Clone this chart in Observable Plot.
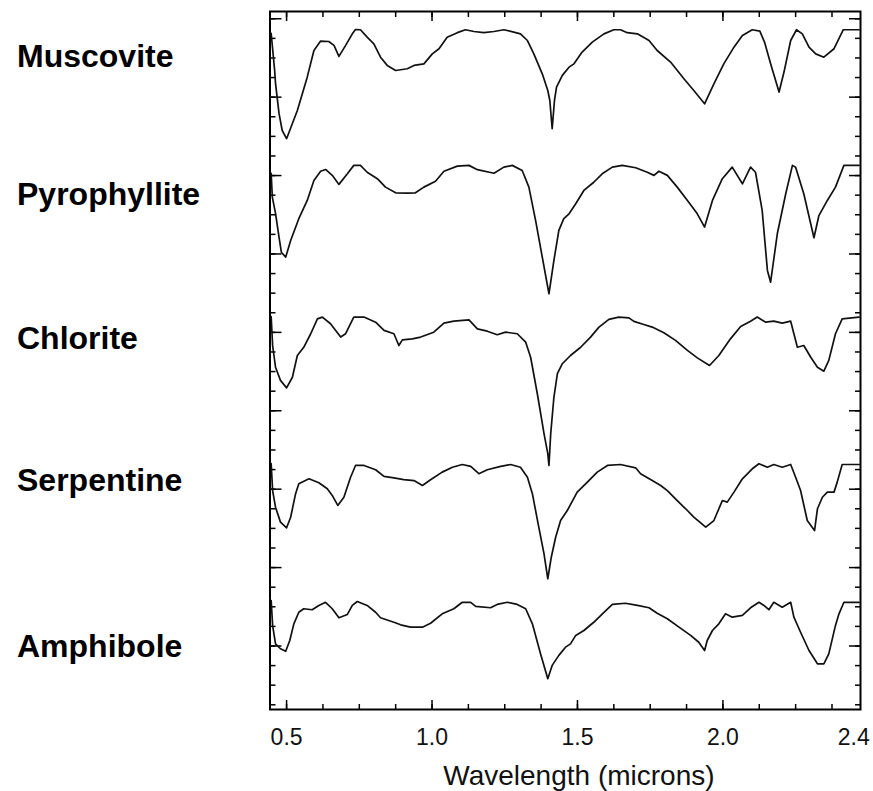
<!DOCTYPE html>
<html><head><meta charset="utf-8">
<script src="https://cdn.jsdelivr.net/npm/d3@7"></script>
<script src="https://cdn.jsdelivr.net/npm/@observablehq/plot@0.6"></script>
<style>html,body{margin:0;padding:0;background:#fff;overflow:hidden;} #chart svg{display:block;}</style>
</head><body><div id="chart"></div>
<script>
// Mineral names and the vertical position of each name label (offset y units)
const minerals = ["Muscovite", "Pyrophyllite", "Chlorite", "Serpentine", "Amphibole"];
const labelY = [30.08, 23.04, 15.66, 8.42, -0.06];

// Spectra: [wavelength (microns), offset reflectance]
const muscovite = [[0.447,31.25],[0.459,29.36],[0.462,28.70],[0.474,27.17],[0.485,26.30],[0.500,25.88],[0.537,27.32],[0.571,29.02],[0.594,30.38],[0.617,30.86],[0.645,30.84],[0.663,30.64],[0.680,30.08],[0.703,30.64],[0.726,31.23],[0.737,31.45],[0.754,31.44],[0.777,31.06],[0.800,30.72],[0.823,30.04],[0.846,29.62],[0.875,29.36],[0.915,29.45],[0.938,29.62],[0.972,29.70],[1.001,30.21],[1.024,30.47],[1.052,31.06],[1.087,31.29],[1.115,31.44],[1.144,31.35],[1.178,31.29],[1.213,31.35],[1.247,31.44],[1.281,31.32],[1.304,31.23],[1.328,30.89],[1.350,30.21],[1.379,29.19],[1.398,28.34],[1.405,27.83],[1.413,26.39],[1.421,27.83],[1.428,28.51],[1.448,29.11],[1.471,29.53],[1.488,29.70],[1.516,30.30],[1.551,30.81],[1.591,31.23],[1.625,31.44],[1.648,31.44],[1.671,31.29],[1.706,31.23],[1.746,30.89],[1.774,30.38],[1.820,29.79],[1.866,28.94],[1.900,28.34],[1.937,27.66],[1.969,28.68],[2.003,29.70],[2.038,30.55],[2.067,31.15],[2.101,31.44],[2.127,31.37],[2.143,30.81],[2.164,29.70],[2.193,28.26],[2.210,29.28],[2.233,30.89],[2.253,31.44],[2.273,31.23],[2.296,30.55],[2.319,30.21],[2.347,30.04],[2.382,30.47],[2.414,31.44],[2.468,31.44]];

const pyrophyllite = [[0.447,24.11],[0.451,22.90],[0.462,22.07],[0.474,20.86],[0.482,20.09],[0.497,19.84],[0.514,20.69],[0.542,21.80],[0.571,22.73],[0.594,23.75],[0.617,24.22],[0.634,24.31],[0.657,24.01],[0.680,23.55],[0.709,24.09],[0.731,24.52],[0.754,24.52],[0.777,24.17],[0.812,23.84],[0.840,23.41],[0.875,23.12],[0.915,23.10],[0.943,23.12],[0.972,23.41],[1.012,23.71],[1.041,24.22],[1.087,24.48],[1.127,24.52],[1.156,24.30],[1.213,24.12],[1.247,24.43],[1.276,24.52],[1.310,24.26],[1.333,23.41],[1.356,21.71],[1.379,19.84],[1.402,17.97],[1.419,19.67],[1.436,21.20],[1.453,21.80],[1.471,22.05],[1.494,22.56],[1.522,23.24],[1.556,23.66],[1.585,24.09],[1.620,24.43],[1.654,24.52],[1.700,24.40],[1.740,24.17],[1.763,24.01],[1.780,24.22],[1.809,24.01],[1.843,23.41],[1.878,22.73],[1.912,22.05],[1.937,21.37],[1.964,22.73],[1.998,23.84],[2.032,24.43],[2.067,23.58],[2.095,24.43],[2.112,24.17],[2.135,22.22],[2.153,19.16],[2.164,18.56],[2.187,21.03],[2.216,23.07],[2.239,24.52],[2.250,24.43],[2.278,23.07],[2.313,20.83],[2.330,21.96],[2.359,22.73],[2.387,23.41],[2.416,24.52],[2.468,24.52]];

const chlorite = [[0.447,16.81],[0.452,15.33],[0.462,14.22],[0.479,13.55],[0.500,13.17],[0.520,13.71],[0.537,14.82],[0.559,15.24],[0.583,15.93],[0.606,16.69],[0.623,16.78],[0.651,16.44],[0.686,15.76],[0.703,15.93],[0.731,16.78],[0.766,16.78],[0.806,16.52],[0.835,16.10],[0.869,15.93],[0.886,15.33],[0.898,15.62],[0.932,15.67],[0.961,15.76],[1.006,16.01],[1.041,16.47],[1.075,16.57],[1.127,16.64],[1.156,16.18],[1.190,16.06],[1.224,15.88],[1.253,16.01],[1.293,15.93],[1.322,15.50],[1.339,14.73],[1.362,12.87],[1.385,10.83],[1.398,9.81],[1.402,9.21],[1.408,10.83],[1.419,12.69],[1.431,13.89],[1.448,14.40],[1.476,14.82],[1.511,15.24],[1.545,15.76],[1.574,16.27],[1.608,16.66],[1.642,16.78],[1.677,16.74],[1.694,16.56],[1.728,16.40],[1.757,16.27],[1.797,15.98],[1.837,15.59],[1.878,15.08],[1.912,14.70],[1.954,14.31],[1.986,14.82],[2.026,15.67],[2.061,16.30],[2.095,16.57],[2.118,16.78],[2.147,16.52],[2.175,16.57],[2.204,16.47],[2.233,16.57],[2.244,15.93],[2.256,15.24],[2.278,15.33],[2.302,14.73],[2.325,14.22],[2.347,14.02],[2.364,14.57],[2.387,15.93],[2.410,16.69],[2.468,16.78]];

const serpentine = [[0.447,9.31],[0.452,7.93],[0.462,7.08],[0.479,6.32],[0.500,6.03],[0.514,6.57],[0.531,7.77],[0.542,8.28],[0.577,8.53],[0.611,8.33],[0.640,8.02],[0.657,7.68],[0.676,7.17],[0.697,7.59],[0.720,8.61],[0.737,9.21],[0.766,9.21],[0.806,8.99],[0.835,8.65],[0.869,8.58],[0.903,8.49],[0.938,8.44],[0.967,8.19],[0.995,8.48],[1.035,8.87],[1.070,9.12],[1.104,9.26],[1.133,9.16],[1.161,8.79],[1.190,8.99],[1.236,9.16],[1.270,9.26],[1.304,9.12],[1.328,8.61],[1.345,7.77],[1.367,6.06],[1.385,4.70],[1.398,3.43],[1.410,4.53],[1.425,5.55],[1.442,6.40],[1.465,6.91],[1.499,7.85],[1.534,8.36],[1.568,8.87],[1.603,9.21],[1.648,9.26],[1.700,9.09],[1.717,8.79],[1.757,8.44],[1.786,8.19],[1.809,7.93],[1.843,7.42],[1.872,7.00],[1.900,6.57],[1.941,6.06],[1.969,6.40],[1.998,7.42],[2.015,7.34],[2.038,7.85],[2.067,8.53],[2.101,9.04],[2.124,9.30],[2.153,9.12],[2.175,9.26],[2.204,9.12],[2.233,9.26],[2.250,8.61],[2.267,7.93],[2.290,6.40],[2.315,5.89],[2.325,7.00],[2.342,7.59],[2.359,7.85],[2.382,7.85],[2.393,8.36],[2.410,9.26],[2.468,9.26]];

const amphibole = [[0.447,2.32],[0.452,1.05],[0.462,0.11],[0.479,-0.14],[0.497,-0.27],[0.511,0.28],[0.525,1.13],[0.542,1.72],[0.559,1.90],[0.588,1.85],[0.611,2.07],[0.634,2.23],[0.657,1.90],[0.680,1.44],[0.709,1.61],[0.726,2.07],[0.743,2.27],[0.777,2.07],[0.806,1.72],[0.823,1.44],[0.869,1.21],[0.892,1.08],[0.926,0.96],[0.967,0.96],[0.995,1.16],[1.035,1.64],[1.075,1.90],[1.104,2.23],[1.133,2.23],[1.150,2.02],[1.201,1.95],[1.224,2.12],[1.259,2.23],[1.293,2.12],[1.322,1.90],[1.345,1.13],[1.373,-0.40],[1.398,-1.67],[1.413,-0.99],[1.436,-0.48],[1.459,-0.06],[1.476,0.11],[1.494,0.54],[1.522,0.79],[1.556,1.21],[1.591,1.72],[1.620,2.12],[1.665,2.18],[1.706,2.07],[1.746,1.95],[1.774,1.67],[1.809,1.39],[1.849,0.96],[1.889,0.54],[1.917,0.19],[1.937,-0.23],[1.946,0.28],[1.964,0.79],[1.986,1.13],[2.009,1.64],[2.032,1.47],[2.067,1.56],[2.095,1.95],[2.124,2.23],[2.141,2.07],[2.158,1.85],[2.175,2.23],[2.204,1.98],[2.233,2.23],[2.244,1.47],[2.267,0.70],[2.296,-0.23],[2.325,-0.91],[2.347,-0.91],[2.364,-0.40],[2.387,1.05],[2.399,1.64],[2.416,2.23],[2.468,2.23]];

// Axis ticks and tick labels
const xMajorTicks = [0.5, 1.0, 1.5, 2.0];
const xMinorTicks = [0.5, 0.625, 0.75, 0.875, 1.0, 1.125, 1.25, 1.375, 1.5, 1.625, 1.75, 1.875, 2.0, 2.125, 2.25, 2.375];
const xLabelTicks = [0.5, 1.0, 1.5, 2.0, 2.45];
const xLabelText = ["0.5", "1.0", "1.5", "2.0", "2.4"];
const yMajorTicks = [0, 4, 8, 12, 16, 20, 24, 28, 32];
const yMinorTicks = [-3,-2,-1,0,1,2,3,4,5,6,7,8,9,10,11,12,13,14,15,16,17,18,19,20,21,22,23,24,25,26,27,28,29,30,31,32];
const xTitle = "Wavelength (microns)";

const series = [muscovite, pyrophyllite, chlorite, serpentine, amphibole];
const rows = series.flatMap((s, i) => s.map(([w, v]) => ({mineral: minerals[i], w, v})));
const labels = minerals.map((m, i) => ({mineral: m, y: labelY[i]}));
const labelMap = new Map(xLabelTicks.map((t, i) => [t, xLabelText[i]]));

const font = "'Liberation Sans', Arial, Helvetica, sans-serif";
const tickOnly = {fill: "none", label: null, strokeWidth: 1.5, stroke: "#000"};

const chart = Plot.plot({
  width: 873,
  height: 791,
  marginLeft: 269.5,
  marginRight: 13,
  marginTop: 11,
  marginBottom: 82,
  style: {fontFamily: font, background: "#fff", color: "#000"},
  x: {domain: [0.443, 2.473], label: null},
  y: {domain: [-3.24, 32.37], label: null},
  marks: [
    Plot.axisX(xMinorTicks, {anchor: "bottom", tickSize: -5, ...tickOnly}),
    Plot.axisX(xMajorTicks, {anchor: "bottom", tickSize: -9, ...tickOnly}),
    Plot.axisX(xMinorTicks, {anchor: "top", tickSize: -5, ...tickOnly}),
    Plot.axisX(xMajorTicks, {anchor: "top", tickSize: -9, ...tickOnly}),
    Plot.axisX(xLabelTicks, {anchor: "bottom", tickSize: 0, tickPadding: 19.5, tickFormat: d => labelMap.get(d), label: null, fontSize: 23, fill: "#111"}),
    Plot.axisY(yMinorTicks, {anchor: "left", tickSize: -6, ...tickOnly}),
    Plot.axisY(yMajorTicks, {anchor: "left", tickSize: -12, ...tickOnly}),
    Plot.axisY(yMinorTicks, {anchor: "right", tickSize: -6, ...tickOnly}),
    Plot.axisY(yMajorTicks, {anchor: "right", tickSize: -12, ...tickOnly}),
    Plot.line(rows, {x: "w", y: "v", z: "mineral", stroke: "#111", strokeWidth: 1.7, strokeLinejoin: "round"}),
    Plot.frame({stroke: "#000", strokeWidth: 2}),
    Plot.text(labels, {y: "y", text: "mineral", frameAnchor: "left", dx: -253, textAnchor: "start", fontSize: 32, fontWeight: "bold", fill: "#000"}),
    Plot.text([{x: 1.505, t: xTitle}], {x: "x", text: "t", frameAnchor: "bottom", lineAnchor: "top", dy: 56, fontSize: 28, fill: "#111"})
  ]
});
document.getElementById("chart").appendChild(chart);
</script>
</body></html>
